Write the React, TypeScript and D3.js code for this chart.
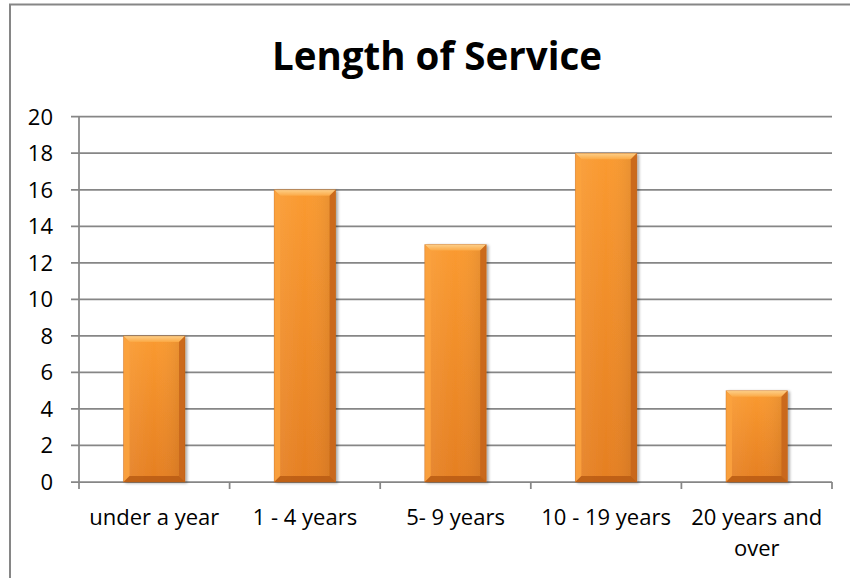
import React from "react";
import * as d3 from "d3";

const TITLE = "Length of Service";
const categories = ["under a year", "1 - 4 years", "5- 9 years", "10 - 19 years", "20 years and over"];
const labelLines = [["under a year"], ["1 - 4 years"], ["5- 9 years"], ["10 - 19 years"], ["20 years and", "over"]];
const values = [8, 16, 13, 18, 5];
const yTicks = [0, 2, 4, 6, 8, 10, 12, 14, 16, 18, 20];

const W = 850;
const H = 578;
const PLOT = { left: 79, right: 832, top: 116.7, bottom: 482 };
const GRID = "#868686";
const FONT = "'Open Sans', 'Noto Sans', sans-serif";

export default function App() {
  const x = d3.scaleBand<string>().domain(categories).range([PLOT.left, PLOT.right]).paddingInner(0.592).paddingOuter(0.296);
  const y = d3.scaleLinear().domain([0, 20]).range([PLOT.bottom, PLOT.top]);
  const step = x.step();
  const bw = x.bandwidth();
  const bev = 6;

  return (
    <svg width={W} height={H} style={{ position: "absolute", left: 0, top: 0, background: "#fff" }}>
      <defs>
        <linearGradient id="barV" x1="0" y1="0" x2="0" y2="1">
          <stop offset="0" stopColor="#FA9A30" />
          <stop offset="1" stopColor="#E57F22" />
        </linearGradient>
        <linearGradient id="barH" x1="0" y1="0" x2="1" y2="0">
          <stop offset="0" stopColor="#ffffff" stopOpacity="0.08" />
          <stop offset="0.5" stopColor="#ffffff" stopOpacity="0" />
          <stop offset="1" stopColor="#000000" stopOpacity="0.10" />
        </linearGradient>
        <linearGradient id="bevTop" x1="0" y1="0" x2="0" y2="1">
          <stop offset="0" stopColor="#FDD08A" />
          <stop offset="1" stopColor="#FBA946" />
        </linearGradient>
        <filter id="shadow" x="-20%" y="-5%" width="140%" height="115%">
          <feGaussianBlur in="SourceAlpha" stdDeviation="1.5" />
          <feOffset dx="2" dy="1" />
          <feComponentTransfer>
            <feFuncA type="linear" slope="0.35" />
          </feComponentTransfer>
          <feMerge>
            <feMergeNode />
            <feMergeNode in="SourceGraphic" />
          </feMerge>
        </filter>
      </defs>

      {/* chart area border (cropped at right and bottom) */}
      <rect x={10} y={4.5} width={W + 20} height={H + 20} fill="#fff" stroke={GRID} strokeWidth={2} />

      {/* title */}
      <text x={437} y={70} textAnchor="middle" fontFamily={FONT} fontWeight={700} fontSize={40} textLength={330} lengthAdjust="spacingAndGlyphs" fill="#000">
        {TITLE}
      </text>

      {/* gridlines and y ticks */}
      {yTicks.map((t) => (
        <g key={t}>
          <line x1={PLOT.left - 8} x2={PLOT.right} y1={y(t)} y2={y(t)} stroke={GRID} strokeWidth={1.75} />
          <text x={53} y={y(t)} dy="0.36em" textAnchor="end" fontFamily={FONT} fontSize={22} fill="#000">
            {t}
          </text>
        </g>
      ))}

      {/* y axis */}
      <line x1={PLOT.left} x2={PLOT.left} y1={PLOT.top} y2={PLOT.bottom + 7} stroke={GRID} strokeWidth={1.75} />

      {/* x tick marks at category boundaries */}
      {categories.map((c, i) => (
        <line key={c} x1={PLOT.left + step * (i + 1)} x2={PLOT.left + step * (i + 1)} y1={PLOT.bottom} y2={PLOT.bottom + 7} stroke={GRID} strokeWidth={1.75} />
      ))}

      {/* bars */}
      {values.map((v, i) => {
        const bx = x(categories[i])!;
        const by = y(v);
        const bh = y(0) - by;
        const x2 = bx + bw;
        const y2 = by + bh;
        return (
          <g key={i} filter="url(#shadow)">
            <rect x={bx} y={by} width={bw} height={bh} fill="url(#barV)" />
            <rect x={bx} y={by} width={bw} height={bh} fill="url(#barH)" />
            {/* top bevel */}
            <polygon points={`${bx},${by} ${x2},${by} ${x2 - bev},${by + bev} ${bx + bev},${by + bev}`} fill="url(#bevTop)" />
            {/* left bevel */}
            <polygon points={`${bx},${by} ${bx + bev},${by + bev} ${bx + bev},${y2 - bev} ${bx},${y2}`} fill="#FBA23E" opacity={0.9} />
            {/* right bevel */}
            <polygon points={`${x2},${by} ${x2 - bev},${by + bev} ${x2 - bev},${y2 - bev} ${x2},${y2}`} fill="#C8661A" opacity={0.9} />
            {/* bottom bevel */}
            <polygon points={`${bx},${y2} ${bx + bev},${y2 - bev} ${x2 - bev},${y2 - bev} ${x2},${y2}`} fill="#B85C15" opacity={0.85} />
            <rect x={bx} y={by} width={bw} height={bh} fill="none" stroke="#B45A14" strokeOpacity={0.35} strokeWidth={0.8} />
          </g>
        );
      })}

      {/* x labels */}
      {labelLines.map((lines, i) => (
        <text key={i} x={x(categories[i])! + bw / 2} y={525} textAnchor="middle" fontFamily={FONT} fontSize={22} fill="#000">
          {lines.map((ln, j) => (
            <tspan key={j} x={x(categories[i])! + bw / 2} dy={j === 0 ? 0 : 30.5}>
              {ln}
            </tspan>
          ))}
        </text>
      ))}
    </svg>
  );
}
